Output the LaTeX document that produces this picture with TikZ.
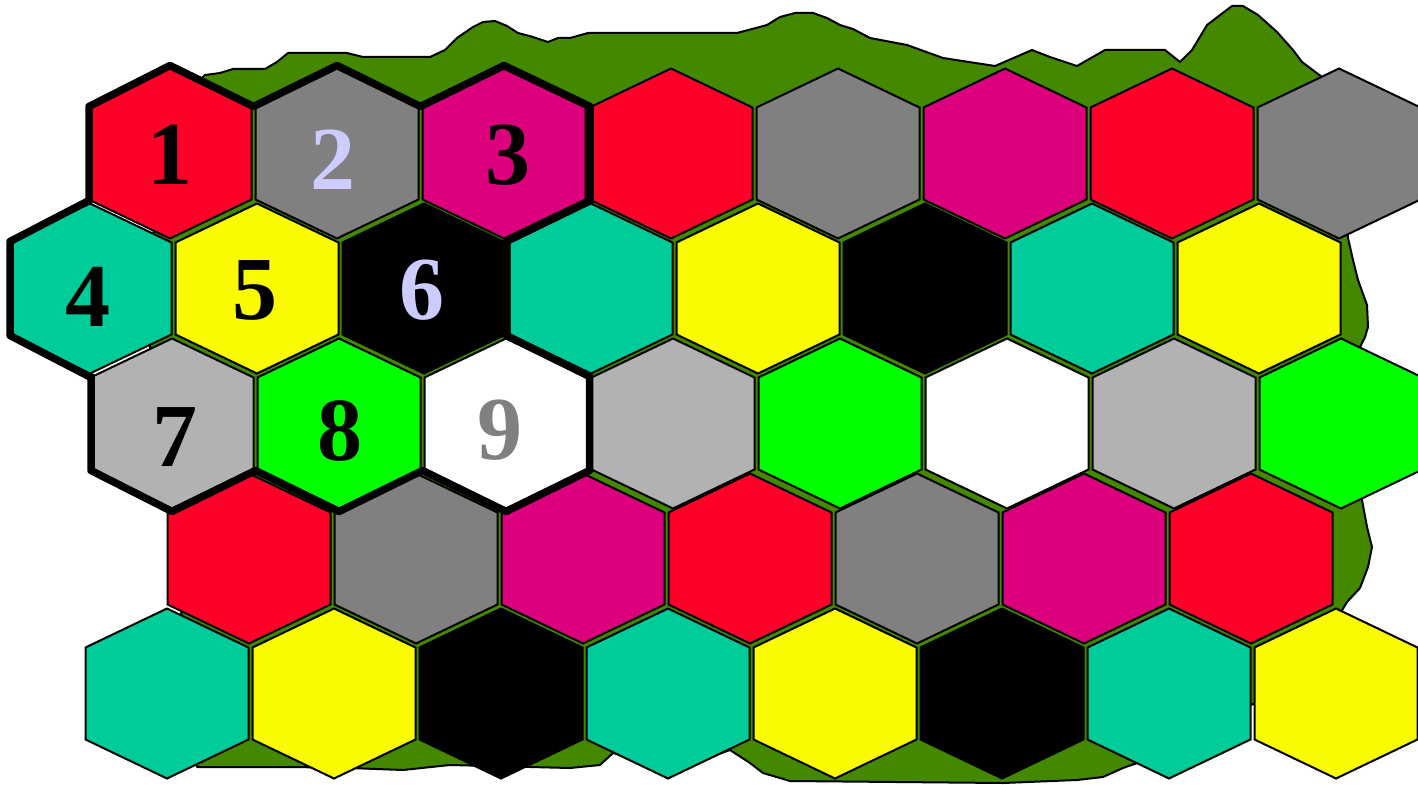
\documentclass[tikz,border=0pt]{standalone}
\usepackage{fontspec}
\setmainfont{Liberation Serif}
\usetikzlibrary{calc}

\definecolor{hexred}{RGB}{255,0,41}
\definecolor{hexgray}{RGB}{128,128,128}
\definecolor{hexmag}{RGB}{220,0,125}
\definecolor{hexteal}{RGB}{0,204,153}
\definecolor{hexyel}{RGB}{250,250,0}
\definecolor{hexlgray}{RGB}{178,178,178}
\definecolor{hexgreen}{RGB}{0,255,0}
\definecolor{landgreen}{RGB}{68,136,0}
\definecolor{lilac}{RGB}{204,204,255}

\newcommand{\hexcell}[3]{%
  \filldraw[cell, fill=#3, shift={(#1,#2)}] (0,-85) -- (81.5,-46) -- (81.5,46) -- (0,85) -- (-81.5,46) -- (-81.5,-46) -- cycle;}

\begin{document}
\begin{tikzpicture}[x=1pt, y=-1pt,
    cell/.style={draw=black, line width=2pt, line join=miter},
    land/.style={fill=landgreen, draw=black, line width=2pt, line join=round},
    rim/.style={draw=black, line width=7.5pt, line join=round},
    digit/.style={font=\fontsize{90}{90}\selectfont\bfseries, inner sep=0pt}
]
\clip (0,0) rectangle (1418,784);

\filldraw[land] (205,75) -- (220,73) -- (233,69) -- (265,69) -- (277,62) -- (288,53) -- (347,53) -- (363,57)
  -- (430,57) -- (445,50) -- (457,38) -- (473,27) -- (483,22) -- (495,21) -- (507,26) -- (518,33) -- (533,37)
  -- (548,42) -- (558,38) -- (570,38) -- (588,33) -- (737,33) -- (767,25) -- (780,17) -- (795,13) -- (813,13)
  -- (827,18) -- (840,25) -- (853,29) -- (870,38) -- (907,45) -- (943,58) -- (995,66) -- (1032,50) -- (1050,57)
  -- (1077,66) -- (1105,50) -- (1165,50) -- (1180,62) -- (1192,50) -- (1207,25) -- (1232,6) -- (1243,6)
  -- (1258,15) -- (1277,32) -- (1293,50) -- (1302,62) -- (1322,77) -- (1345,150) -- (1348,238) -- (1353,260)
  -- (1358,280) -- (1367,305) -- (1368,327) -- (1365,337) -- (1360,347) -- (1358,420) -- (1362,500) -- (1367,527)
  -- (1372,547) -- (1368,567) -- (1360,588) -- (1347,602) -- (1300,680) -- (1140,762) -- (1123,768) -- (1103,777)
  -- (1077,780) -- (1003,783) -- (790,781) -- (763,773) -- (750,763) -- (730,750) -- (672,770) -- (613,753)
  -- (600,765) -- (570,768) -- (450,765) -- (403,770) -- (350,768) -- (293,767) -- (197,767) -- (180,600)
  -- (170,500) -- (150,400) -- (150,250) -- (180,100) -- cycle;

\foreach \c [count=\i from 0] in {hexred,hexgray,hexmag,hexred,hexgray,hexmag,hexred,hexgray}
  {\hexcell{170+167*\i}{153.5}{\c}}
\foreach \c [count=\i from 0] in {hexteal,hexyel,black,hexteal,hexyel,black,hexteal,hexyel}
  {\hexcell{90+167*\i}{288.5}{\c}}
\foreach \c [count=\i from 0] in {hexlgray,hexgreen,white,hexlgray,hexgreen,white,hexlgray,hexgreen}
  {\hexcell{172+167*\i}{423.5}{\c}}
\foreach \c [count=\i from 0] in {hexred,hexgray,hexmag,hexred,hexgray,hexmag,hexred}
  {\hexcell{249+167*\i}{558.5}{\c}}
\foreach \c [count=\i from 0] in {hexteal,hexyel,black,hexteal,hexyel,black,hexteal,hexyel}
  {\hexcell{167+167*\i}{693.5}{\c}}

\draw[rim] (89,106.5) -- (170,65.5) -- (253.5,106.5) -- (337,65.5) -- (420.5,106.5) -- (504,65.5)
  -- (590,106.5) -- (590,200.5) -- (506.5,241.5) -- (506.5,335.5) -- (589.5,376.5) -- (589.5,470.5)
  -- (506,511.5) -- (422.5,470.5) -- (339,511.5) -- (255.5,470.5) -- (172,511.5) -- (91,470.5)
  -- (91,376.5) -- (89,376.5) -- (10,335.5) -- (10,241.5) -- (89,200.5) -- cycle;

\node[digit, text=black] (d1) at (170,155) {1};
\node[digit, text=lilac] (d2) at (333,160) {2};
\node[digit, text=black] (d3) at (508,155) {3};
\node[digit, text=black] (d4) at (88,297) {4};
\node[digit, text=black] (d5) at (255,290) {5};
\node[digit, text=lilac] (d6) at (422,290) {6};
\node[digit, text=black] (d7) at (175,437) {7};
\node[digit, text=black] (d8) at (340,431) {8};
\node[digit, text=hexgray] (d9) at (500,430) {9};
\end{tikzpicture}
\end{document}
